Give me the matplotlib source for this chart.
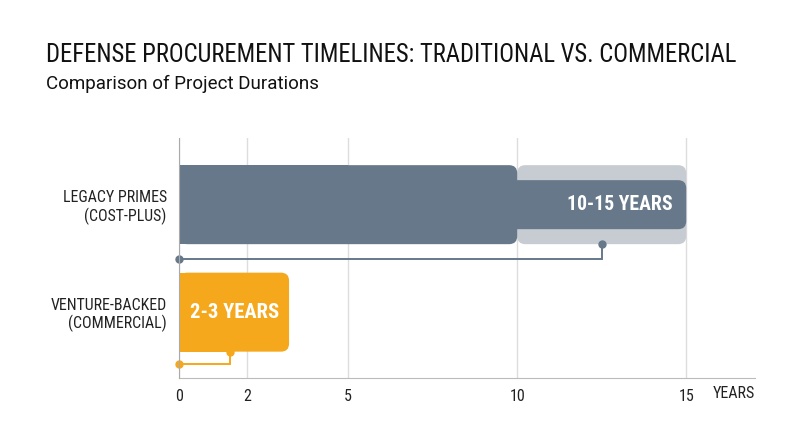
import matplotlib.pyplot as plt
from matplotlib.patches import FancyBboxPatch, Rectangle

plt.rcParams['font.family'] = ['Roboto Condensed', 'Liberation Sans Narrow', 'Roboto', 'DejaVu Sans']

# data
categories = ["LEGACY PRIMES\n(COST-PLUS)", "VENTURE-BACKED\n(COMMERCIAL)"]
range_low = [10, 2]
range_high = [15, 3]
bar_labels = ["10-15 YEARS", "2-3 YEARS"]
marker_pos = [12.5, 1.5]
xticks = [0, 2, 5, 10, 15]

dark = "#66788a"
light = "#c6ccd1"
orange = "#f6a81c"

fig = plt.figure(figsize=(8, 4.47), dpi=100)
ax = fig.add_axes([0.224, 0.154, 0.72, 0.537])
ax.set_xlim(0, 17.04)
ax.set_ylim(1.614, -0.619)

h = 0.735
hn = 0.456
rx = 0.24
asp = 0.315


def rbox(x0, x1, yc, height, color, z, square_left=True):
    p = FancyBboxPatch((x0, yc - height / 2), x1 - x0, height,
                       boxstyle=f"round,pad=0,rounding_size={rx}",
                       mutation_aspect=asp, fc=color, ec="none", zorder=z)
    ax.add_patch(p)
    if square_left:
        ax.add_patch(Rectangle((x0, yc - height / 2), (x1 - x0) / 2, height,
                               fc=color, ec="none", zorder=z))


# legacy: range band, main bar, narrow extension
rbox(range_low[0], range_high[0], 0, h, light, 2, square_left=False)
rbox(0, range_low[0], 0, h, dark, 3)
rbox(range_low[0] - 1, range_high[0], 0, hn, dark, 4, square_left=False)
ax.text(range_high[0] - 0.4, 0, bar_labels[0], color="white", fontsize=14.2,
        fontweight="bold", ha="right", va="center", zorder=5)

# venture
rbox(0, range_high[1] + 0.25, 1, h, orange, 3)
ax.text((range_high[1] + 0.25) / 2, 1, bar_labels[1], color="white", fontsize=14.8,
        fontweight="bold", ha="center", va="center", zorder=5)

# brackets
for i, col in enumerate([dark, orange]):
    yb = i + h / 2
    yl = i + (0.507 if i == 0 else 0.484)
    ax.plot([0, marker_pos[i], marker_pos[i]], [yl, yl, yb], color=col, lw=1.4,
            zorder=6, clip_on=False, solid_joinstyle="miter")
    ax.plot([0, marker_pos[i]], [yl, yb], "o", color=col, ms=5, zorder=7, clip_on=False)

ax.set_yticks([0, 1])
ax.set_yticklabels(categories, fontsize=11.4, color="#222222", linespacing=1.15)
ax.set_xticks(xticks)
ax.set_xticklabels([str(t) for t in xticks], fontsize=11.5, color="#222222")
ax.tick_params(length=0)
ax.tick_params(axis="x", pad=8)
ax.tick_params(axis="y", pad=9)
ax.text(1.0, -0.033, "YEARS", transform=ax.transAxes, ha="right", va="top",
        fontsize=11.5, color="#222222")

ax.grid(axis="x", color="#dddddd", lw=1, zorder=0)
ax.set_axisbelow(True)
for s in ["top", "right"]:
    ax.spines[s].set_visible(False)
ax.spines["left"].set_color("#aaaaaa")
ax.spines["bottom"].set_color("#bbbbbb")
ax.spines["left"].set_zorder(8)

fig.text(0.0575, 0.877, "DEFENSE PROCUREMENT TIMELINES: TRADITIONAL VS. COMMERCIAL",
         fontsize=17.7, color="#111111", ha="left", va="center")
fig.text(0.0575, 0.812, "Comparison of Project Durations", fontsize=13.5,
         color="#111111", ha="left", va="center", family=["Roboto", "DejaVu Sans"])

fig.savefig("out.png", dpi=100, facecolor="white")
